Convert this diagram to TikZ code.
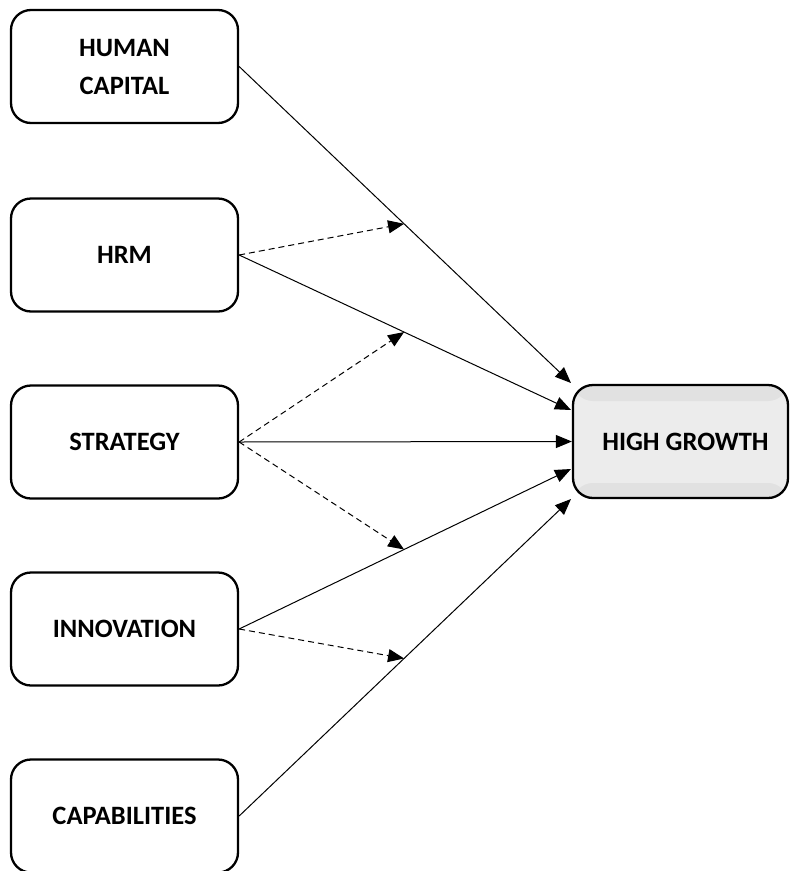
\documentclass[tikz,border=0pt]{standalone}
\usepackage{fontspec}
\setmainfont{Carlito}
\usetikzlibrary{arrows.meta}
\definecolor{hgmid}{HTML}{ECECEC}
\definecolor{hgband}{HTML}{E1E1E1}
\begin{document}
\begin{tikzpicture}[x=1pt,y=-1pt,
  box/.style={draw=black, line width=2.3pt, rounded corners=20pt,
    minimum width=227pt, minimum height=113pt, align=center,
    font=\fontsize{26.5}{38}\selectfont\bfseries, inner sep=0pt},
  conn/.style={line width=1pt, -{Triangle[length=16pt,width=13pt]}},
  moder/.style={conn, dash pattern=on 6pt off 4pt}]
\useasboundingbox (0,0) rectangle (790,871);

\node[box] (hc)  at (124.5,66.5)  {HUMAN\\CAPITAL};
\node[box] (hrm) at (124.5,255)   {HRM};
\node[box] (st)  at (124.5,442)   {STRATEGY};
\node[box] (inn) at (124.5,629)   {INNOVATION};
\node[box] (cap) at (124.5,816)   {CAPABILITIES};

\node[box, fill=hgmid, minimum width=215pt,
  path picture={
    \fill[hgband] (path picture bounding box.north west) rectangle ([yshift=-16pt]path picture bounding box.north east);
    \fill[hgband] (path picture bounding box.south west) rectangle ([yshift=15pt]path picture bounding box.south east);
  }] (hg) at (680.5,441.5) {\hspace{10pt}HIGH GROWTH};

\coordinate (t1) at (571,383);
\coordinate (t2) at (571,410);
\coordinate (t4) at (571,469);
\coordinate (t5) at (571,499);

\draw[conn] (hc.east) -- (t1) coordinate[pos=0.497] (m1);
\draw[conn] (hrm.east) -- (t2) coordinate[pos=0.497] (m2);
\draw[conn] (st.east) -- (hg.west);
\draw[conn] (inn.east) -- (t4) coordinate[pos=0.497] (m4);
\draw[conn] (cap.east) -- (t5) coordinate[pos=0.497] (m5);

\draw[moder] (hrm.east) -- (m1);
\draw[moder] (st.east) -- (m2);
\draw[moder] (st.east) -- (m4);
\draw[moder] (inn.east) -- (m5);
\end{tikzpicture}
\end{document}
